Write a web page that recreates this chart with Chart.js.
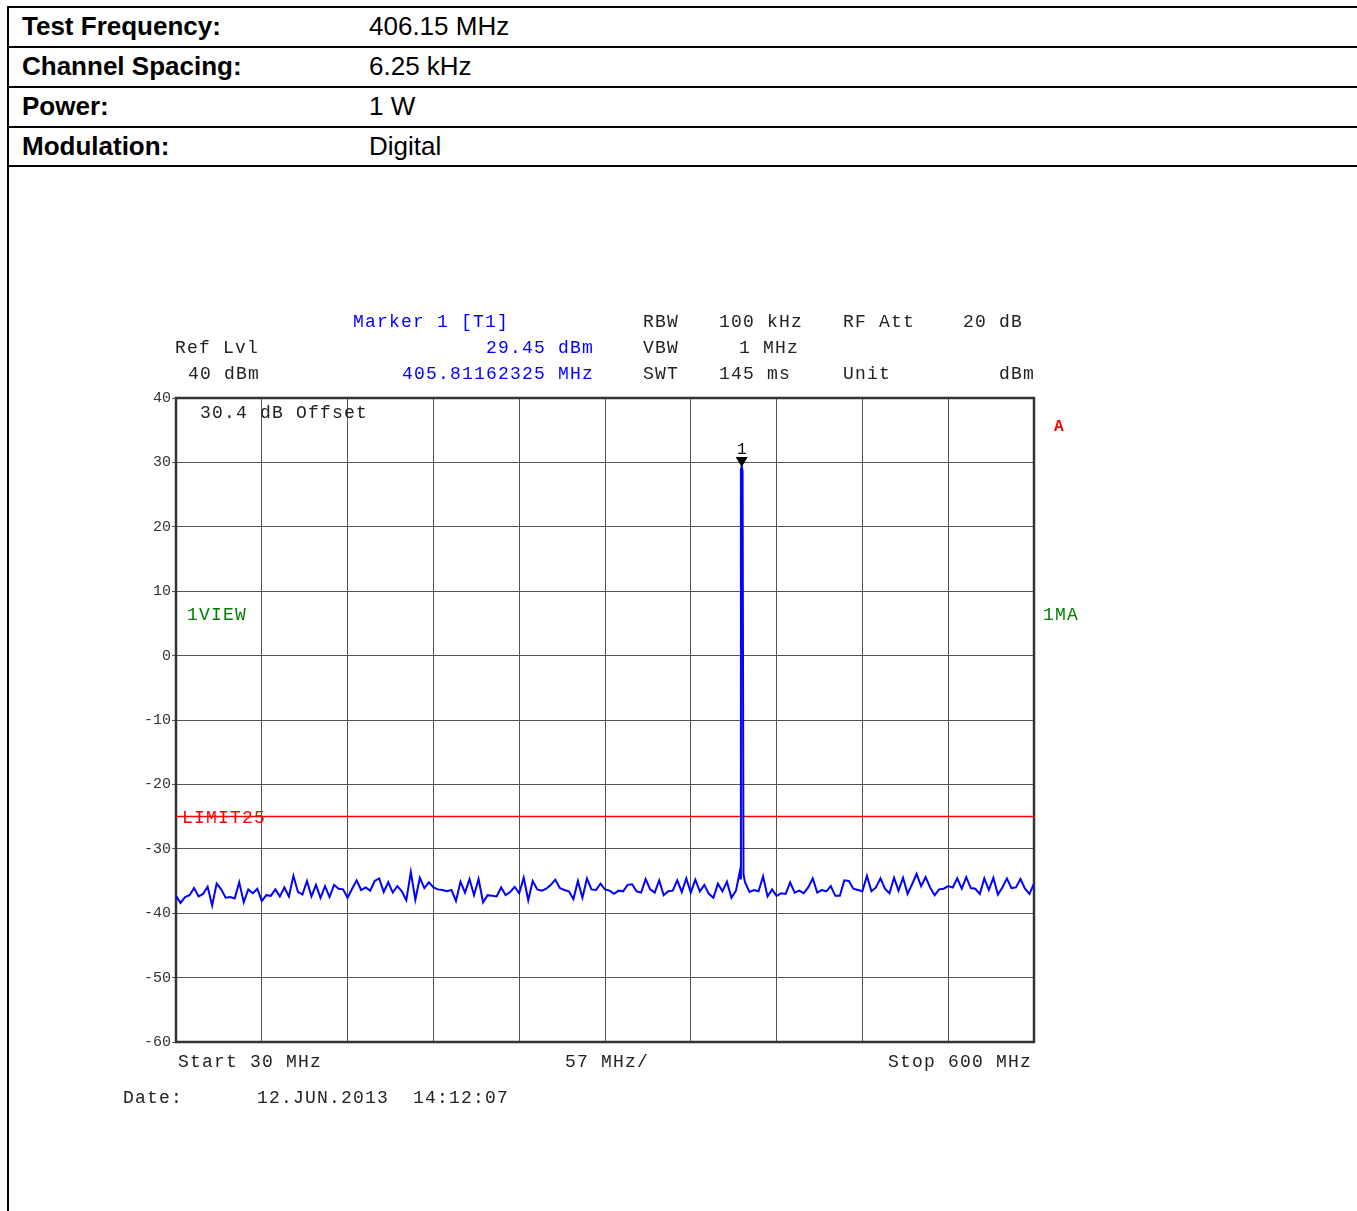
<!DOCTYPE html>
<html>
<head>
<meta charset="utf-8">
<script src="https://cdn.jsdelivr.net/npm/chart.js@4.4.1/dist/chart.umd.min.js"></script>
<style>
body { margin:0; background:#fff; width:1357px; height:1211px; overflow:hidden; position:relative; font-family:"Liberation Sans", Arial, sans-serif; }
#page { position:absolute; left:7px; top:6px; width:1350px; height:1205px; border-left:2px solid #000; box-sizing:border-box; }
#info { position:absolute; left:7px; top:6px; width:1350px; border-top:2px solid #000; border-left:2px solid #000; box-sizing:border-box; }
.row { height:38px; border-bottom:2px solid #000; position:relative; font-size:26px; line-height:37px; color:#000; }
.row:last-child { height:37px; }
.row .k { position:absolute; left:13px; font-weight:bold; }
.row .v { position:absolute; left:360px; }
#scope { position:absolute; left:0; top:0; }
</style>
</head>
<body>
<div id="page"></div>
<div id="info">
  <div class="row"><span class="k">Test Frequency:</span><span class="v">406.15 MHz</span></div>
  <div class="row"><span class="k">Channel Spacing:</span><span class="v">6.25 kHz</span></div>
  <div class="row"><span class="k">Power:</span><span class="v">1 W</span></div>
  <div class="row"><span class="k">Modulation:</span><span class="v">Digital</span></div>
</div>
<canvas id="scope" width="1357" height="1211"></canvas>
<script>
// sweep settings (MHz)
const sweepStart = 30;
const sweepStop = 600;
const sweepStep = 3;

// trace levels in dBm, one per sweep point
const traceLevels = [
    -37.3, -38.4, -37.5, -37.2, -36.1, -37.4, -37.0, -35.9, -38.8, -35.4,
    -36.3, -37.6, -37.5, -37.7, -35.2, -38.3, -36.3, -36.9, -36.2, -38.1,
    -37.2, -37.3, -36.3, -37.4, -36.0, -37.4, -34.2, -36.7, -37.1, -35.0,
    -37.4, -35.6, -37.6, -35.8, -37.5, -35.6, -36.2, -36.3, -37.6, -36.2,
    -34.9, -36.4, -36.0, -36.5, -35.0, -34.6, -36.7, -35.2, -36.8, -35.8,
    -36.6, -38.0, -33.6, -37.9, -34.5, -36.1, -35.2, -36.0, -36.3, -36.4,
    -36.6, -36.4, -38.1, -35.1, -36.8, -34.7, -37.2, -34.7, -38.3, -37.2,
    -37.3, -37.4, -36.0, -37.2, -36.7, -35.9, -36.9, -34.5, -38.0, -35.0,
    -36.3, -36.5, -36.2, -35.6, -34.8, -36.1, -36.4, -36.6, -37.8, -35.0,
    -37.6, -34.6, -36.3, -36.4, -35.4, -36.3, -36.5, -37.0, -36.5, -36.6,
    -35.6, -35.5, -36.6, -36.8, -34.7, -36.3, -36.8, -34.9, -37.2, -36.6,
    -36.5, -34.9, -36.7, -34.6, -36.8, -34.8, -36.6, -35.6, -37.0, -37.6,
    -35.4, -36.6, -35.1, -37.6, -36.5, -34.6, -35.2, -36.7, -36.4, -36.6,
    -34.3, -37.4, -36.3, -37.3, -36.9, -37.0, -35.2, -36.8, -36.5, -36.9,
    -36.0, -34.6, -36.8, -36.4, -36.6, -35.8, -37.3, -37.3, -34.9, -35.0,
    -36.2, -36.4, -36.6, -34.2, -36.6, -36.0, -34.6, -36.2, -36.9, -34.5,
    -36.5, -34.5, -37.0, -35.5, -33.9, -35.8, -34.4, -36.0, -37.2, -36.3,
    -36.2, -35.8, -36.0, -34.6, -36.2, -34.4, -36.1, -36.2, -37.0, -34.6,
    -36.4, -34.5, -37.1, -36.0, -34.6, -36.1, -36.0, -34.7, -36.2, -37.0,
    -35.4
];

// carrier spike around the marker
const peakFreqs = [404.6, 405.3, 405.81162325, 406.4, 407.0];
const peakLevels = [-33.5, 28.8, 29.45, 28.6, -34.0];

// marker 1
const markerFreq = 405.81162325;
const markerLevel = 29.45;

// limit line
const limitFreqs = [30, 600];
const limitLevels = [-25, -25];

const yTicks = [40, 30, 20, 10, 0, -10, -20, -30, -40, -50, -60];
const xGrid = [30, 87, 144, 201, 258, 315, 372, 429, 486, 543, 600];

const tracePoints = traceLevels
    .map(function (v, i) { return { x: sweepStart + i * sweepStep, y: v }; })
    .concat(peakFreqs.map(function (f, i) { return { x: f, y: peakLevels[i] }; }))
    .sort(function (a, b) { return a.x - b.x; });

const limitPoints = limitFreqs.map(function (f, i) { return { x: f, y: limitLevels[i] }; });

const MONO = '"Liberation Mono", "DejaVu Sans Mono", monospace';

function put(ctx, s, x, y, color, align) {
    ctx.fillStyle = color;
    ctx.textAlign = align || 'left';
    ctx.fillText(s, x, y);
}

const scopeText = {
    id: 'scopeText',
    beforeDatasetsDraw: function (chart) {
        const a = chart.chartArea;
        const ctx = chart.ctx;
        ctx.save();
        ctx.strokeStyle = '#333';
        ctx.lineWidth = 2.5;
        ctx.strokeRect(a.left, a.top, a.right - a.left, a.bottom - a.top);
        ctx.restore();
    },
    afterDatasetsDraw: function (chart) {
        const a = chart.chartArea;
        const ctx = chart.ctx;
        const L = a.left, T = a.top, R = a.right, B = a.bottom;
        const blue = '#0000ff', ink = '#222', red = '#ff0000', green = '#008000';

        ctx.save();
        ctx.font = '18px ' + MONO;
        ctx.letterSpacing = '1.2px';
        ctx.textBaseline = 'alphabetic';

        // header block
        put(ctx, 'Marker 1 [T1]', L + 177, T - 71, blue);
        put(ctx, 'RBW', L + 467, T - 71, ink);
        put(ctx, '100 kHz', L + 543, T - 71, ink);
        put(ctx, 'RF Att', L + 667, T - 71, ink);
        put(ctx, '20 dB', L + 787, T - 71, ink);

        put(ctx, 'Ref Lvl', L - 1, T - 45, ink);
        put(ctx, '29.45 dBm', L + 418, T - 45, blue, 'right');
        put(ctx, 'VBW', L + 467, T - 45, ink);
        put(ctx, '1 MHz', L + 623, T - 45, ink, 'right');

        put(ctx, '40 dBm', L + 12, T - 19, ink);
        put(ctx, '405.81162325 MHz', L + 418, T - 19, blue, 'right');
        put(ctx, 'SWT', L + 467, T - 19, ink);
        put(ctx, '145 ms', L + 543, T - 19, ink);
        put(ctx, 'Unit', L + 667, T - 19, ink);
        put(ctx, 'dBm', R + 1, T - 19, ink, 'right');

        // inside / beside the screen
        put(ctx, '30.4 dB Offset', L + 24, T + 20, ink);
        put(ctx, '1VIEW', L + 11, T + 222, green);
        put(ctx, '1MA', R + 9, T + 222, green);
        put(ctx, 'LIMIT25', L + 6, chart.scales.y.getPixelForValue(limitLevels[0]) + 6, red);
        ctx.font = 'bold 16px ' + MONO;
        put(ctx, 'A', R + 20, T + 33, red);

        // bottom annotation
        ctx.font = '18px ' + MONO;
        put(ctx, 'Start 30 MHz', L + 2, B + 25, ink);
        put(ctx, '57 MHz/', L + 389, B + 25, ink);
        put(ctx, 'Stop 600 MHz', R - 2, B + 25, ink, 'right');
        put(ctx, 'Date:', L - 53, B + 61, ink);
        put(ctx, '12.JUN.2013', L + 81, B + 61, ink);
        put(ctx, '14:12:07', L + 237, B + 61, ink);

        // marker 1
        const mx = chart.scales.x.getPixelForValue(markerFreq);
        const my = chart.scales.y.getPixelForValue(markerLevel);
        ctx.fillStyle = '#000';
        ctx.beginPath();
        ctx.moveTo(mx - 6, my - 9);
        ctx.lineTo(mx + 6, my - 9);
        ctx.lineTo(mx, my + 1);
        ctx.closePath();
        ctx.fill();
        ctx.font = '16px ' + MONO;
        ctx.letterSpacing = '0px';
        put(ctx, '1', mx, my - 12, '#000', 'center');
        ctx.restore();
    }
};

new Chart(document.getElementById('scope'), {
    type: 'line',
    data: {
        datasets: [
            {
                label: 'Trace 1',
                data: tracePoints,
                borderColor: '#0000ff',
                borderWidth: 2,
                pointRadius: 0,
                tension: 0,
                fill: false,
                order: 1
            },
            {
                label: 'Limit',
                data: limitPoints,
                borderColor: '#ff0000',
                borderWidth: 1.5,
                pointRadius: 0,
                fill: false,
                order: 2
            }
        ]
    },
    options: {
        responsive: false,
        animation: false,
        devicePixelRatio: 1,
        layout: {
            padding: { left: 136, top: 398, right: 323, bottom: 169 }
        },
        scales: {
            x: {
                type: 'linear',
                min: sweepStart,
                max: sweepStop,
                afterBuildTicks: function (scale) {
                    scale.ticks = xGrid.map(function (v) { return { value: v }; });
                },
                afterFit: function (scale) { scale.height = 0; },
                ticks: { display: false },
                grid: { color: '#555', lineWidth: 1, drawTicks: false },
                border: { display: false }
            },
            y: {
                min: -60,
                max: 40,
                afterBuildTicks: function (scale) {
                    scale.ticks = yTicks.map(function (v) { return { value: v }; });
                },
                afterFit: function (scale) { scale.width = 40; },
                ticks: {
                    color: '#333',
                    padding: 1,
                    font: { family: MONO, size: 15 }
                },
                grid: { color: '#555', lineWidth: 1, tickLength: 4 },
                border: { display: false }
            }
        },
        plugins: {
            legend: { display: false },
            tooltip: { enabled: false }
        }
    },
    plugins: [scopeText]
});
</script>
</body>
</html>
